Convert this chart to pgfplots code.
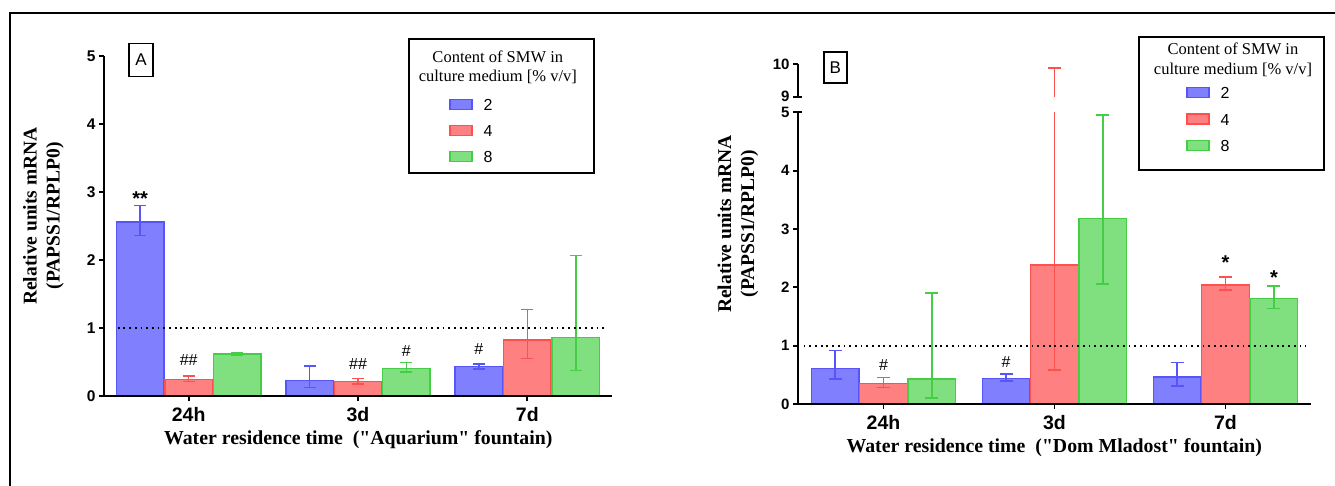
\documentclass[border=0pt]{standalone}
\usepackage{pgfplots}
\pgfplotsset{compat=1.18}
\usepackage{pgfplotstable}
\usepackage{fontspec}
\setmainfont{Liberation Sans}
\newfontfamily\tms{Liberation Serif}
\newcommand{\fs}[1]{\fontsize{#1}{#1}\selectfont}
\definecolor{bluefill}{RGB}{128,128,255}
\definecolor{blueline}{RGB}{85,85,250}
\definecolor{redfill}{RGB}{255,128,128}
\definecolor{redline}{RGB}{255,80,80}
\definecolor{greenfill}{RGB}{128,224,128}
\definecolor{greenline}{RGB}{70,205,70}

% Panel A data: x position, value, error plus, error minus
\pgfplotstableread{
x y ep em
-0.286 2.557 0.243 0.200
0.714 0.220 0.220 0.100
1.714 0.430 0.040 0.040
}\Ablue
\pgfplotstableread{
x y ep em
0 0.240 0.050 0.030
1 0.210 0.040 0.040
2 0.820 0.450 0.270
}\Ared
\pgfplotstableread{
x y ep em
0.286 0.615 0.015 0.015
1.286 0.400 0.090 0.050
2.286 0.855 1.205 0.485
}\Agreen
% Panel B data
\pgfplotstableread{
x y ep em
-0.283 0.610 0.305 0.180
0.717 0.434 0.080 0.040
1.717 0.460 0.255 0.150
}\Bblue
\pgfplotstableread{
x y ep em
0 0.355 0.095 0.070
1 2.380 7.500 1.800
2 2.040 0.140 0.085
}\Bred
\pgfplotstableread{
x y ep em
0.283 0.430 1.470 0.330
1.283 3.180 1.770 1.120
2.283 1.806 0.214 0.170
}\Bgreen

\pgfplotsset{
  panel/.style={
    scale only axis, anchor=south west,
    xmin=-0.5, xmax=2.5,
    axis x line*=bottom, axis y line*=left,
    axis line style={line width=1.8pt, black},
    xtick={0,1,2}, xticklabels={24h,3d,7d},
    tick align=outside, major tick length=5pt,
    tick style={line width=1.8pt, black},
    /pgf/number format/assume math mode=true,
    yticklabel style={font=\bfseries\fs{15.5}},
    xticklabel style={font=\bfseries\fs{19.5}, yshift=-3pt},
    axis on top,
    legend cell align=left,
  },
  mybar/.style n args={4}{ybar, bar shift=0pt, bar width=#3, fill=#1, draw=#2,
    line width=1.5pt, forget plot,
    error bars/.cd, y dir=both, y explicit,
    error bar style={#2, line width=1.5pt},
    error mark options={#2, rotate=90, mark size=#4, line width=1.5pt}},
  legsw/.style n args={2}{legend image code/.code={%
    \draw[fill=#1, draw=#2, line width=1.5pt] (0pt,-5pt) rectangle (22pt,5pt);}},
}

\begin{document}
\begin{tikzpicture}
\useasboundingbox (0,0) rectangle (1335pt,486pt);
\fill[white] (0,0) rectangle (1335pt,486pt);
\draw[line width=2pt] (9.7pt,0pt) -- (9.7pt,472.7pt) -- (1335pt,472.7pt);

% ---------------- Panel A ----------------
\begin{axis}[panel,
  at={(104pt,90.3pt)}, width=508pt, height=339.7pt,
  ymin=0, ymax=5, ytick={0,1,2,3,4,5},
  legend style={at={(0.6791,0.876)}, anchor=north west, draw=none, fill=none,
    inner sep=0pt, row sep=14pt, column sep=11pt, font=\fs{16},
    nodes={inner sep=0pt, text height=12pt, text depth=0pt}},
]
\addplot[mybar={bluefill}{blueline}{0.2805}{6pt}] table[x=x, y=y, y error plus=ep, y error minus=em] {\Ablue};
\addplot[mybar={redfill}{redline}{0.2805}{6pt}] table[x=x, y=y, y error plus=ep, y error minus=em] {\Ared};
\addplot[mybar={greenfill}{greenline}{0.2805}{6pt}] table[x=x, y=y, y error plus=ep, y error minus=em] {\Agreen};
\addplot[black, line width=1.8pt, dash pattern=on 1.8pt off 3.9pt, forget plot] coordinates {(-0.419,1) (2.472,1)};
\addlegendimage{legsw={bluefill}{blueline}}
\addlegendentry{2}
\addlegendimage{legsw={redfill}{redline}}
\addlegendentry{4}
\addlegendimage{legsw={greenfill}{greenline}}
\addlegendentry{8}
\node[font=\bfseries\fs{20}, anchor=base] at (axis cs:-0.286,2.80) {**};
\node[font=\fs{16}, anchor=base] at (axis cs:0,0.45) {\#\#};
\node[font=\fs{16}, anchor=base] at (axis cs:1,0.39) {\#\#};
\node[font=\fs{16}, anchor=base] at (axis cs:1.286,0.574) {\#};
\node[font=\fs{16}, anchor=base] at (axis cs:1.714,0.60) {\#};
\end{axis}

% ---------------- Panel B (lower part) ----------------
\begin{axis}[panel,
  at={(798pt,82pt)}, width=513pt, height=291.7pt,
  ymin=0, ymax=5, ytick={0,1,2,3,4,5},
  yticklabel style={font=\bfseries\fs{15}},
  legend style={at={(0.7563,1.089)}, anchor=north west, draw=none, fill=none,
    inner sep=0pt, row sep=14.5pt, column sep=11pt, font=\fs{16},
    nodes={inner sep=0pt, text height=12pt, text depth=0pt}},
]
\addplot[mybar={bluefill}{blueline}{0.278}{6.5pt}] table[x=x, y=y, y error plus=ep, y error minus=em] {\Bblue};
\addplot[mybar={redfill}{redline}{0.278}{6.5pt}] table[x=x, y=y, y error plus=ep, y error minus=em] {\Bred};
\addplot[mybar={greenfill}{greenline}{0.278}{6.5pt}] table[x=x, y=y, y error plus=ep, y error minus=em] {\Bgreen};
\addplot[black, line width=1.8pt, dash pattern=on 1.8pt off 3.9pt, forget plot] coordinates {(-0.467,1) (2.472,1)};
\addlegendimage{legsw={bluefill}{blueline}}
\addlegendentry{2}
\addlegendimage{legsw={redfill}{redline}}
\addlegendentry{4}
\addlegendimage{legsw={greenfill}{greenline}}
\addlegendentry{8}
\node[font=\fs{16}, anchor=base] at (axis cs:0,0.57) {\#};
\node[font=\fs{16}, anchor=base] at (axis cs:0.717,0.63) {\#};
\node[font=\bfseries\fs{20}, anchor=base] at (axis cs:2,2.30) {*};
\node[font=\bfseries\fs{20}, anchor=base] at (axis cs:2.283,2.05) {*};
\end{axis}

% ---------------- Panel B (upper part, broken axis) ----------------
\begin{axis}[
  scale only axis, anchor=south west,
  at={(798pt,389.3pt)}, width=513pt, height=32.4pt,
  xmin=-0.5, xmax=2.5, ymin=9, ymax=10,
  axis x line=none, axis y line*=left,
  axis line style={line width=1.8pt, black},
  ytick={9,10}, tick align=outside, major tick length=5pt,
  tick style={line width=1.8pt, black},
  /pgf/number format/assume math mode=true,
  yticklabel style={font=\bfseries\fs{15}},
]
\addplot[redline, line width=1.5pt, mark=none, forget plot,
  error bars/.cd, y dir=plus, y explicit,
  error bar style={redline, line width=1.5pt},
  error mark options={redline, rotate=90, mark size=6.5pt, line width=1.5pt}]
  coordinates {(1,9) += (0,0.88)};
\end{axis}
\draw[line width=1.8pt] (797.1pt,389.3pt) -- (802pt,389.3pt);
\draw[line width=1.8pt] (797.1pt,373.7pt) -- (802pt,373.7pt);

% ---------------- texts ----------------
\node[draw, line width=1.8pt, font=\fs{17}, minimum width=24pt, minimum height=33pt, inner sep=0pt] at (141pt,426pt) {A};
\node[draw, line width=1.8pt, font=\fs{17}, minimum width=23pt, minimum height=31pt, inner sep=0pt] at (835.3pt,418.2pt) {B};

\node[rotate=90, align=center, font=\tms\bfseries\fontsize{19.5}{23}\selectfont] at (43.5pt,270pt) {Relative units mRNA\\(PAPSS1/RPLP0)};
\node[rotate=90, align=center, font=\tms\bfseries\fontsize{19.5}{23}\selectfont] at (738pt,262pt) {Relative units mRNA\\(PAPSS1/RPLP0)};

\node[font=\tms\bfseries\fs{19.8}] at (358.3pt,46pt) {Water residence time~~("Aquarium" fountain)};
\node[font=\tms\bfseries\fs{19.8}] at (1054.3pt,38pt) {Water residence time~~("Dom Mladost" fountain)};

\draw[line width=1.8pt] (409.3pt,447pt) rectangle (594.3pt,312.7pt);
\node[font=\tms\fs{16.5}, anchor=base] at (497.8pt,423.7pt) {Content of SMW in};
\node[font=\tms\fs{16.5}, anchor=base] at (497.8pt,404.3pt) {culture medium [\% v/v]};

\draw[line width=1.8pt] (1139.3pt,449.3pt) rectangle (1324.3pt,316pt);
\node[font=\tms\fs{16.5}, anchor=base] at (1233pt,431pt) {Content of SMW in};
\node[font=\tms\fs{16.5}, anchor=base] at (1233pt,411.7pt) {culture medium [\% v/v]};
\end{tikzpicture}
\end{document}
